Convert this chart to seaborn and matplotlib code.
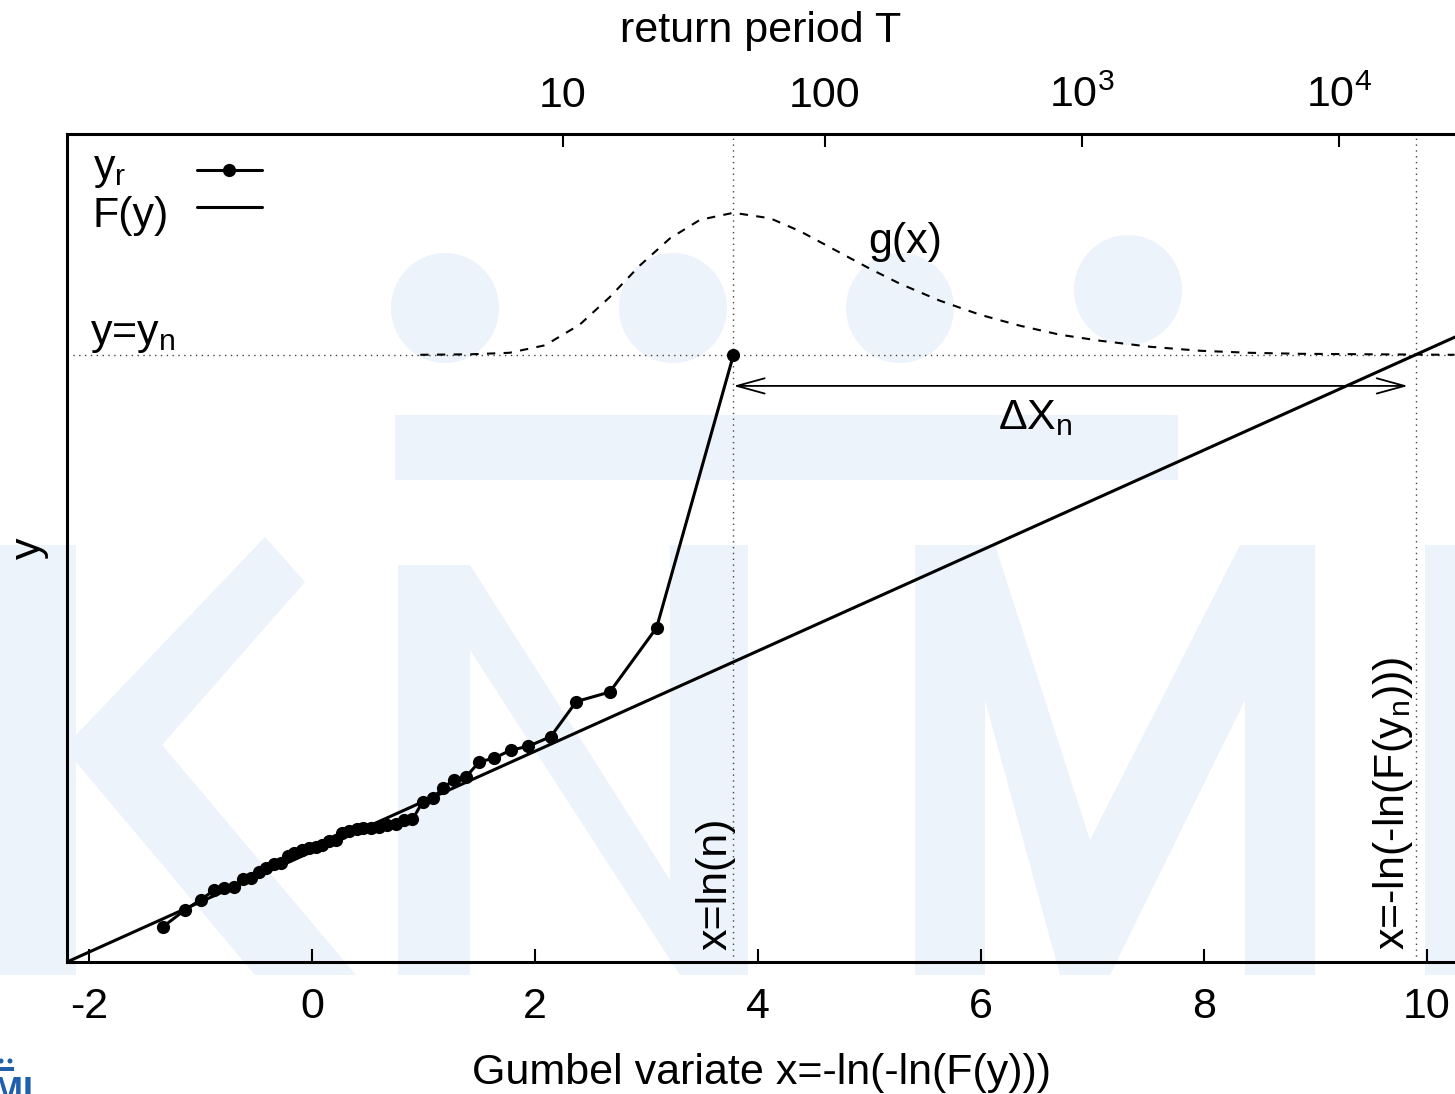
import numpy as np
import pandas as pd
import matplotlib
matplotlib.use("Agg")
import matplotlib.pyplot as plt
import seaborn as sns
from matplotlib.patches import Polygon, Ellipse

# ---------------- data ----------------
# ordered sample: Gumbel plotting positions x and values y_r
x_pos = [-1.34, -1.14, -1.00, -0.88, -0.79, -0.70, -0.62, -0.55, -0.48, -0.41,
         -0.34, -0.28, -0.22, -0.16, -0.09, -0.03, 0.03, 0.09, 0.15, 0.21,
         0.27, 0.33, 0.40, 0.46, 0.53, 0.60, 0.67, 0.75, 0.82, 0.90,
         0.99, 1.08, 1.17, 1.27, 1.38, 1.50, 1.63, 1.78, 1.94, 2.14,
         2.37, 2.67, 3.09, 3.78]
y_r = [0.70, 1.04, 1.24, 1.43, 1.47, 1.50, 1.66, 1.67, 1.80, 1.87,
       1.96, 1.98, 2.12, 2.17, 2.23, 2.28, 2.30, 2.33, 2.42, 2.44,
       2.57, 2.62, 2.66, 2.67, 2.68, 2.70, 2.73, 2.75, 2.83, 2.84,
       3.19, 3.26, 3.46, 3.63, 3.69, 3.99, 4.06, 4.22, 4.30, 4.49,
       5.19, 5.38, 6.66, 12.10]

# fitted distribution line F(y): y = mu + sigma * x
mu, sigma = 2.2, 1.0
y_n = 12.1          # largest value
ln_n = 3.78         # x = ln(n)
x_F = 9.9           # x = -ln(-ln(F(y_n)))
y_arrow = 11.48     # level of the Delta X_n arrow

# dashed density g(x), drawn on top of the y = y_n level
g_x = [0.97, 1.42, 1.77, 2.09, 2.40, 2.67, 2.94, 3.21, 3.48, 3.78,
       4.11, 4.38, 4.74, 5.00, 5.27, 5.63, 5.99, 6.35, 6.71, 7.07,
       7.52, 7.97, 8.41, 8.86, 9.50, 10.25]
g_h = [0.00, 0.01, 0.04, 0.19, 0.60, 1.15, 1.78, 2.32, 2.69, 2.83,
       2.72, 2.46, 2.03, 1.72, 1.42, 1.08, 0.80, 0.58, 0.40, 0.28,
       0.16, 0.08, 0.04, 0.02, 0.01, 0.00]

x_ticks = [-2, 0, 2, 4, 6, 8, 10]
T_ticks = [10, 100, 1000, 10000]
T_labels = ["10", "100", r"10$^\mathregular{3}$", r"10$^\mathregular{4}$"]
legend_labels = [r"y$_\mathregular{r}$", "F(y)"]
x_lim = (-2.2, 10.254)
y_lim = (0.0, 16.5)

FS = 31

# ---------------- style ----------------
sns.set_theme(style="white")
plt.rcParams.update({
    "font.size": FS,
    "axes.unicode_minus": False,
    "mathtext.fontset": "custom",
    "mathtext.rm": "Liberation Sans",
    "mathtext.it": "Liberation Sans:italic",
    "mathtext.bf": "Liberation Sans:bold",
    "axes.linewidth": 2.2,
    "text.color": "black",
    "axes.labelcolor": "black",
    "xtick.color": "black",
})
plt.rcParams["font.family"] = ["Liberation Sans", "DejaVu Sans"]

W, H = 1455, 1094
fig = plt.figure(figsize=(W / 100, H / 100), dpi=100)
fig.patch.set_facecolor("white")

# ---------------- faint KNMI watermark (background decoration) ----------------
wm = "#ecf3fa"


def fpts(pts):
    return [(x / W, 1 - y / H) for x, y in pts]


def add_poly(pts, color=wm, z=-5):
    fig.add_artist(Polygon(fpts(pts), closed=True, transform=fig.transFigure,
                           facecolor=color, edgecolor="none", zorder=z))


# bar
add_poly([(395, 415), (1178, 415), (1178, 480), (395, 480)])
# dots
for cx, cy in [(445, 308), (673, 308), (900, 308), (1128, 290)]:
    fig.add_artist(Ellipse((cx / W, 1 - cy / H), 108 / W, 110 / H,
                           transform=fig.transFigure, facecolor=wm,
                           edgecolor="none", zorder=-5))
# K
add_poly([(0, 545), (76, 545), (76, 975), (0, 975)])
add_poly([(76, 735), (265, 537), (305, 582), (162, 745), (356, 975),
          (255, 975), (76, 762)])
# N
add_poly([(398, 565), (470, 565), (670, 880), (670, 545), (748, 545),
          (748, 975), (680, 975), (470, 650), (470, 975), (398, 975)])
# M
add_poly([(915, 975), (915, 545), (995, 545), (1090, 840), (1240, 545),
          (1315, 545), (1315, 975), (1245, 975), (1245, 700), (1110, 975),
          (1060, 975), (985, 700), (985, 975)])
# I
add_poly([(1425, 545), (1500, 545), (1500, 975), (1425, 975)])

# small logo at the lower left corner (partly outside the picture)
logo = "#1f5fae"
fig.text(34 / W, -9 / H, "KNMI", ha="right", va="baseline", fontsize=26,
         fontweight="bold", color=logo)
add_poly([(0, 1067), (14, 1067), (14, 1071), (0, 1071)], color=logo, z=3)
for cx in (1, 10):
    fig.add_artist(Ellipse((cx / W, 1 - 1061 / H), 5 / W, 5 / H,
                           transform=fig.transFigure, facecolor=logo,
                           edgecolor="none", zorder=3))

# ---------------- main axes ----------------
ax = fig.add_axes([67 / W, 132 / H, 1388 / W, 828 / H])
ax.patch.set_alpha(0)

df = pd.DataFrame({"x": x_pos, "y": y_r})
sns.lineplot(data=df, x="x", y="y", ax=ax, color="black", lw=2.2,
             marker="o", markersize=9.5, markeredgewidth=0,
             estimator=None, sort=False, legend=False, zorder=5)
h_data = ax.lines[-1]

fx = np.array(x_lim)
sns.lineplot(x=fx, y=mu + sigma * fx, ax=ax, color="black", lw=2.2,
             estimator=None, legend=False, zorder=4)
h_F = ax.lines[-1]

sns.lineplot(x=g_x, y=y_n + np.array(g_h), ax=ax, color="black", lw=1.5,
             linestyle=(0, (4, 4)), estimator=None, legend=False, zorder=3)

dot = dict(color="#444444", lw=1.0, ls=(0, (1, 3.2)), zorder=2)
ax.axhline(y_n, **dot)
ax.axvline(ln_n, **dot)
ax.axvline(x_F, **dot)

ax.annotate("", xy=(ln_n, y_arrow), xytext=(x_F, y_arrow),
            arrowprops=dict(arrowstyle="<->,head_length=0.4,head_width=0.11",
                            lw=1.3, color="black", shrinkA=5.5, shrinkB=0,
                            mutation_scale=50))

ax.text(-1.995, y_n, r"y=y$_\mathregular{n}$", ha="left", va="bottom")
ax.text(5.32, 14.35, "g(x)", ha="center", va="center")
ax.text(6.485, 10.84, r"ΔX$_\mathregular{n}$", ha="center", va="center")
ax.text(3.62, 0.24, "x=ln(n)", rotation=90, ha="center", va="bottom")
ax.text(9.70, 0.24, r"x=-ln(-ln(F(y$_\mathregular{n}$)))", rotation=90,
        ha="center", va="bottom")

ax.set_xlim(*x_lim)
ax.set_ylim(*y_lim)
ax.set_xticks(x_ticks)
ax.set_yticks([])
ax.spines["right"].set_visible(False)
for s in ["left", "top", "bottom"]:
    ax.spines[s].set_color("black")
    ax.spines[s].set_linewidth(2.2)
ax.tick_params(axis="x", direction="in", length=9.5, width=1.5, pad=18,
               labelsize=FS, top=False, bottom=True)
ax.set_xlabel("Gumbel variate x=-ln(-ln(F(y)))", fontsize=FS)
ax.xaxis.set_label_coords(0.5, -0.1096)
ax.set_ylabel("y", fontsize=FS)
ax.yaxis.set_label_coords(-0.013, 0.5)

# legend in gnuplot style: text on the left, samples on the right
leg = ax.legend([h_data, h_F], legend_labels,
                loc="upper left", bbox_to_anchor=(0.0165, 0.9759),
                markerfirst=False, frameon=False, fontsize=FS,
                handlelength=1.5, handletextpad=0.72, labelspacing=-0.12,
                borderpad=0, borderaxespad=0)
for t in leg.get_texts():
    t.set_alpha(0)
ax.text(0.0187, 0.9457, legend_labels[0], transform=ax.transAxes,
        ha="left", va="baseline", fontsize=FS)
ax.text(0.0187, 0.8877, legend_labels[1], transform=ax.transAxes,
        ha="left", va="baseline", fontsize=FS)

# ---------------- top axis: return period ----------------
ax2 = ax.twiny()
ax2.set_xlim(*x_lim)
ax2.set_xticks([-np.log(-np.log(1 - 1 / T)) for T in T_ticks])
ax2.set_xticklabels(T_labels)
for s in ax2.spines.values():
    s.set_visible(False)
ax2.tick_params(axis="x", direction="in", length=9.5, width=1.5, pad=13,
                labelsize=FS, top=True, bottom=False, labeltop=True,
                labelbottom=False)
ax2.set_xlabel("return period T", fontsize=FS)
ax2.xaxis.set_label_coords(0.5, 1.111)

fig.savefig("out.png", dpi=100)
